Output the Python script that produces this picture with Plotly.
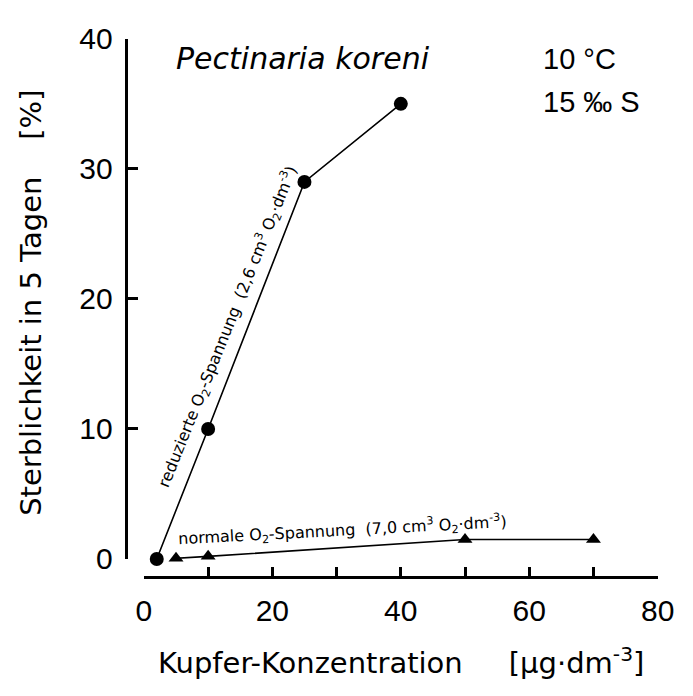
import plotly.graph_objects as go

# --- data ---
red_x = [2, 10, 25, 40]
red_y = [0, 10, 29, 35]
norm_x = [5, 10, 50, 70]
norm_y = [0.05, 0.2, 1.5, 1.5]

x_ticks = [0, 20, 40, 60, 80]
y_ticks = [0, 10, 20, 30, 40]

W, H = 693, 696
FONT = "DejaVu Sans"
NUMFONT = "Liberation Sans"

fig = go.Figure()
fig.add_trace(go.Scatter(
    x=red_x, y=red_y, mode="lines+markers",
    line=dict(color="black", width=1.6),
    marker=dict(symbol="circle", size=14, color="black"),
    cliponaxis=False, showlegend=False))
fig.add_trace(go.Scatter(
    x=norm_x, y=norm_y, mode="lines+markers",
    line=dict(color="black", width=1.6),
    marker=dict(symbol="triangle-up", size=13, color="black"),
    cliponaxis=False, showlegend=False))

fig.update_layout(
    width=W, height=H,
    margin=dict(l=0, r=0, t=0, b=0),
    paper_bgcolor="white", plot_bgcolor="white",
    font=dict(family=FONT, color="black"),
    xaxis=dict(
        domain=[141 / W, 674 / W], range=[0, 80],
        anchor="free", position=1 - 589 / H,
        showline=True, linewidth=3, linecolor="black",
        showgrid=False, zeroline=False,
        tickvals=x_ticks, ticks="inside", ticklen=9, tickwidth=2.5, tickcolor="black",
        minor=dict(dtick=10, tick0=0, ticks="inside", ticklen=9, tickwidth=2.5, tickcolor="black"),
        tickfont=dict(size=30, family=NUMFONT),
        ticklabelstandoff=6,
    ),
    yaxis=dict(
        domain=[1 - 570 / H, 1 - 24 / H], range=[0, 40],
        anchor="free", position=122 / W,
        showline=True, linewidth=3, linecolor="black",
        showgrid=False, zeroline=False,
        tickvals=y_ticks, ticks="inside", ticklen=10, tickwidth=2.5, tickcolor="black",
        tickfont=dict(size=30, family=NUMFONT),
        ticklabelstandoff=6,
    ),
)

annos = [
    dict(text="Kupfer-Konzentration&nbsp;&nbsp;&nbsp;&nbsp;&nbsp;[µg·dm<sup>-3</sup>]",
         x=408 / W, y=1 - 677 / H, xref="paper", yref="paper",
         xanchor="center", yanchor="middle", font=dict(size=29)),
    dict(text="Sterblichkeit in 5 Tagen&nbsp;&nbsp;&nbsp;&nbsp;[%]",
         x=24 / W, y=1 - 301 / H, xref="paper", yref="paper", textangle=-90,
         xanchor="center", yanchor="middle", font=dict(size=29)),
    dict(text="<i>Pectinaria koreni</i>",
         x=172 / W, y=1 - 45 / H, xref="paper", yref="paper",
         xanchor="left", yanchor="middle", font=dict(size=30)),
    dict(text="10 °C",
         x=553 / W, y=1 - 45 / H, xref="paper", yref="paper",
         xanchor="left", yanchor="middle", font=dict(size=29, family=NUMFONT)),
    dict(text="15 ‰ S",
         x=553 / W, y=1 - 90 / H, xref="paper", yref="paper",
         xanchor="left", yanchor="middle", font=dict(size=29, family=NUMFONT)),
    dict(text="reduzierte O<sub>2</sub>-Spannung&nbsp;&nbsp;(2,6 cm<sup>3</sup> O<sub>2</sub>·dm<sup>-3</sup>)",
         x=13.05, y=17.9, xref="x", yref="y", textangle=-68,
         xanchor="center", yanchor="middle", font=dict(size=16)),
    dict(text="normale O<sub>2</sub>-Spannung&nbsp;&nbsp;(7,0 cm<sup>3</sup> O<sub>2</sub>·dm<sup>-3</sup>)",
         x=30.9, y=2.2, xref="x", yref="y", textangle=-3,
         xanchor="center", yanchor="middle", font=dict(size=16)),
]
for a in annos:
    a.setdefault("showarrow", False)
    fig.add_annotation(**a)

fig.write_html("out.html")
